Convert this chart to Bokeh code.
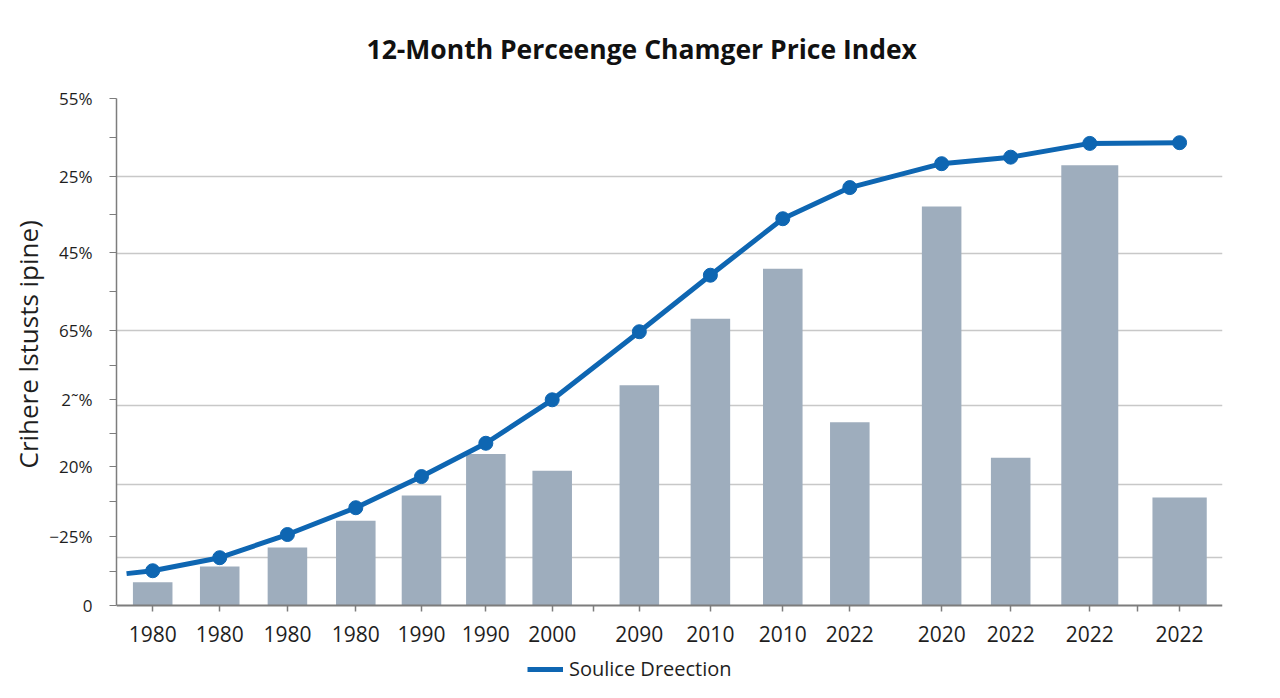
from bokeh.plotting import figure
from bokeh.models import Range1d, FixedTicker, Legend, LegendItem, Title
from bokeh.embed import file_html
from bokeh.resources import INLINE

# ---- data ----
title_text = "12-Month Perceenge Chamger Price Index"
y_axis_title = "Crihere lstusts ipine)"
series_name = "Soulice Dreection"

x_labels = ["1980", "1980", "1980", "1980", "1990", "1990", "2000", "2090",
            "2010", "2010", "2022", "2020", "2022", "2022", "2022"]
x_slots = [0.54, 1.54, 2.55, 3.57, 4.55, 5.51, 6.50, 7.80,
           8.86, 9.94, 10.94, 12.31, 13.34, 14.52, 15.86]
bar_values = [0.32, 0.54, 0.80, 1.17, 1.52, 2.09, 1.86, 3.04,
              3.96, 4.65, 2.53, 5.51, 2.04, 6.08, 1.49]
line_values = [0.48, 0.66, 0.98, 1.35, 1.78, 2.24, 2.84, 3.78,
               4.56, 5.34, 5.77, 6.10, 6.19, 6.38, 6.39]
line_start_slot = 0.15
line_start_value = 0.44

y_tick_values = [0, 0.95, 1.92, 2.84, 3.80, 4.87, 5.92, 7.0]
y_tick_labels = ["0", "\u221225%", "20%", "2\u02dc%", "65%", "45%", "25%", "55%"]
grid_values = [0.66, 1.67, 2.76, 3.80, 4.86, 5.92, 7.0]
blank_x_ticks = [7.12, 15.23]

# ---- styles ----
bar_widths = [0.59] * 13 + [0.85, 0.81]
BAR_COLOR = "#9eadbd"
LINE_COLOR = "#0e66b2"
AXIS_COLOR = "#7d7d7d"
TEXT_COLOR = "#1e1e1e"
FONT = "Open Sans"

# frame runs from 98 px to the page bottom (682 px); y = 0 sits at 605 px,
# the x axis is pinned there so the legend can live inside the frame.
Y_TOP = 7.0
Y_BOTTOM = Y_TOP - 584 / (507 / 7.0)

p = figure(width=1264, height=682,
           x_range=Range1d(0, 16.5), y_range=Range1d(Y_BOTTOM, Y_TOP),
           output_backend="svg", toolbar_location=None,
           min_border_left=116, min_border_right=42,
           min_border_top=98, min_border_bottom=0)
p.outline_line_color = None
p.background_fill_color = "white"

# title
p.title.text = title_text
p.title.align = "left"
p.title.offset = 250
p.title.vertical_align = "top"
p.title.standoff = 60
p.title.text_font = FONT
p.title.text_font_size = "26.5px"
p.title.text_font_style = "bold"
p.title.text_color = "#111111"

p.vbar(x=x_slots, top=bar_values, bottom=0, width=bar_widths,
       fill_color=BAR_COLOR, line_color=None)

line_r = p.line([line_start_slot] + x_slots, [line_start_value] + line_values,
                line_width=5, line_color=LINE_COLOR, line_join="round")
p.scatter(x_slots, line_values, size=14, fill_color=LINE_COLOR, line_color=LINE_COLOR)

# grid
p.xgrid.visible = False
p.ygrid.ticker = FixedTicker(ticks=grid_values)
p.ygrid.grid_line_color = "#c8c8c8"
p.ygrid.grid_line_width = 1.5

# x axis
xa = p.xaxis[0]
xa.fixed_location = 0
xa.ticker = FixedTicker(ticks=x_slots + blank_x_ticks)
overrides = {x: lab for x, lab in zip(x_slots, x_labels)}
for b in blank_x_ticks:
    overrides[b] = ""
xa.major_label_overrides = overrides
xa.axis_line_color = AXIS_COLOR
xa.axis_line_width = 2
xa.major_tick_line_color = AXIS_COLOR
xa.major_tick_line_width = 1.5
xa.major_tick_in = 0
xa.major_tick_out = 6
xa.minor_tick_line_color = None
xa.major_label_standoff = 14
xa.major_label_text_font = FONT
xa.major_label_text_font_size = "21px"
xa.major_label_text_color = TEXT_COLOR

# y axis
ya = p.yaxis[0]
ya.bounds = (0, Y_TOP)
mids = [(a + b) / 2 for a, b in zip(y_tick_values[:-1], y_tick_values[1:])]
ya.ticker = FixedTicker(ticks=y_tick_values, minor_ticks=mids)
ya.major_label_overrides = {v: lab for v, lab in zip(y_tick_values, y_tick_labels)}
ya.axis_line_color = AXIS_COLOR
ya.axis_line_width = 1.5
ya.major_tick_line_color = AXIS_COLOR
ya.minor_tick_line_color = AXIS_COLOR
ya.major_tick_line_width = 1.2
ya.minor_tick_line_width = 1.2
ya.major_tick_in = 0
ya.major_tick_out = 7
ya.minor_tick_in = 0
ya.minor_tick_out = 7
ya.major_label_standoff = 17
ya.major_label_text_font = FONT
ya.major_label_text_font_size = "17px"
ya.major_label_text_color = TEXT_COLOR

# y-axis title as a rotated side title so it can be centred on the 0..7 span
p.add_layout(Title(text=y_axis_title, align="left", offset=214, standoff=2,
                   text_font=FONT, text_font_size="26px",
                   text_font_style="normal", text_color=TEXT_COLOR), "left")

# legend inside the (extended) frame, below the pinned x axis
legend = Legend(items=[LegendItem(label=series_name, renderers=[line_r])],
                location=(411, 0), orientation="horizontal",
                glyph_width=36, glyph_height=20, label_standoff=6,
                padding=0, margin=0,
                border_line_color=None, background_fill_alpha=0,
                label_text_font=FONT, label_text_font_size="20px",
                label_text_color=TEXT_COLOR)
p.add_layout(legend)

open("out.html", "w").write(file_html(p, INLINE))
